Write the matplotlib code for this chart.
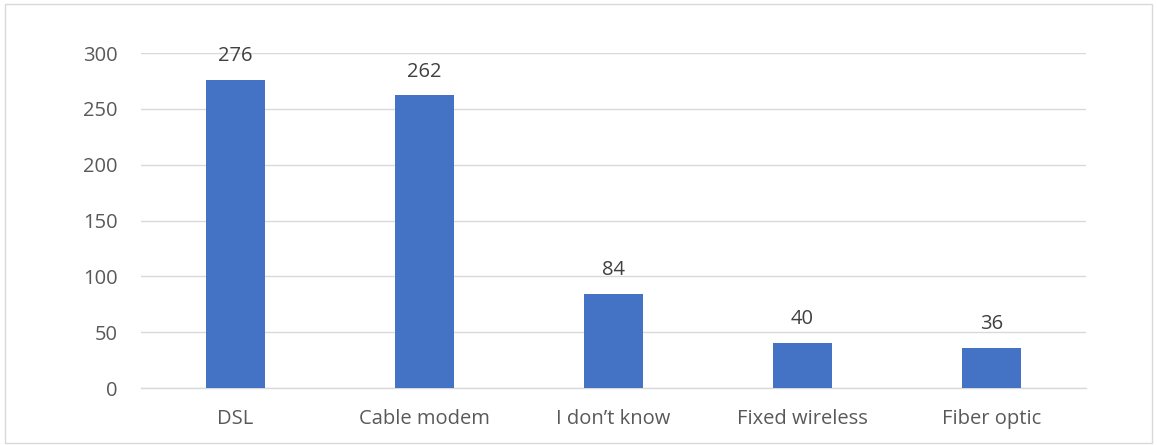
import matplotlib
matplotlib.use("Agg")
import matplotlib.pyplot as plt
from matplotlib.patches import Rectangle

categories = ["DSL", "Cable modem", "I don\u2019t know", "Fixed wireless", "Fiber optic"]
values = [276, 262, 84, 40, 36]
yticks = [0, 50, 100, 150, 200, 250, 300]

plt.rcParams['font.family'] = ['Open Sans', 'DejaVu Sans']
W, H = 1157, 445
fig = plt.figure(figsize=(W/100, H/100), dpi=100)
ax = fig.add_axes([141/W, 57/H, 945/W, 335/H])

x = list(range(len(categories)))
bars = ax.bar(x, values, width=0.317, color="#4472C4", zorder=3)
for xi, v in zip(x, values):
    ax.annotate(str(v), (xi, v), xytext=(0, 10), textcoords="offset points",
                ha="center", va="bottom", fontsize=14.5, color="#404040")

ax.set_xlim(-0.5, len(categories) - 0.5)
ax.set_ylim(0, 300)
ax.set_yticks(yticks)
ax.set_xticks(x)
ax.set_xticklabels(categories)
ax.grid(axis="y", color="#d9d9d9", linewidth=1, zorder=0)
for s in ["top", "right", "left"]:
    ax.spines[s].set_visible(False)
ax.spines["bottom"].set_color("#d9d9d9")
ax.spines["bottom"].set_linewidth(1)
ax.tick_params(axis="both", length=0, labelsize=14.5, colors="#595959")
ax.tick_params(axis="y", pad=17)
ax.tick_params(axis="x", pad=15)

fig.patches.append(Rectangle((5/W, 2/H), 1147/W, 439/H, transform=fig.transFigure,
                             fill=False, edgecolor="#d9d9d9", linewidth=1))
fig.savefig("out.png", dpi=100)
